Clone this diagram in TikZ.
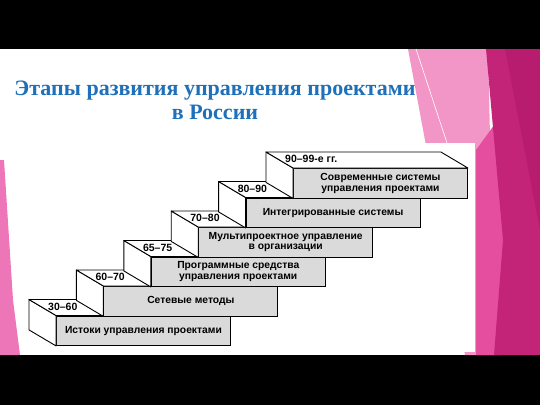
\documentclass[tikz,border=0pt]{standalone}
\usepackage{fontspec}
\setmainfont{Liberation Serif}
\setsansfont{Liberation Sans}
\usetikzlibrary{positioning, calc}

\definecolor{titleblue}{RGB}{30,112,186}
\definecolor{stepgrey}{RGB}{218,218,218}
\definecolor{lightpink}{RGB}{242,150,199}
\definecolor{midpink}{RGB}{229,78,158}
\definecolor{slidemagenta}{RGB}{196,36,120}
\definecolor{deepmagenta}{RGB}{184,28,110}
\definecolor{leftpink}{RGB}{236,118,184}

\begin{document}
\begin{tikzpicture}[x=1pt, y=-1pt,
  front/.style={draw, line width=0.9pt, fill=stepgrey, anchor=north west,
    minimum width=174pt, minimum height=29.5pt, inner sep=0pt, align=center,
    font=\sffamily\bfseries\fontsize{10.3}{10.6}\selectfont},
  side/.style={draw, line width=0.9pt, fill=white, line join=round},
  years/.style={anchor=west, inner sep=0pt,
    font=\sffamily\bfseries\fontsize{10.5}{11}\selectfont}]
  \useasboundingbox (0,0) rectangle (540,405);
  % slide with its black bars
  \fill[black] (0,0) rectangle (540,405);
  \fill[white] (0,49) rectangle (540,355);
  % pink decoration
  \fill[leftpink] (0,160) -- (4,160) -- (13,300) -- (20,355) -- (0,355) -- cycle;
  \fill[lightpink] (408,49) -- (488,49) -- (495,355) -- (465,355) -- cycle;
  \fill[midpink] (476,150) -- (505,110) -- (502,355) -- (476,355) -- cycle;
  \fill[slidemagenta] (486,49) -- (540,49) -- (540,355) -- (494,355) -- (503,240) -- cycle;
  \fill[deepmagenta] (505,49) -- (540,49) -- (540,230) -- cycle;
  \draw[white, line width=0.6pt] (416,49) -- (447,143);
  % scanned picture
  \fill[white] (24,143) rectangle (475,352);

  \node[text=titleblue, align=center, font=\rmfamily\bfseries\fontsize{22}{24}\selectfont]
    (title) at (215,100) {Этапы развития управления проектами\\в России};

  % stairs
  \foreach \i/\yr/\txt in {0/30–60/{Истоки управления проектами},
      1/60–70/{Сетевые методы},
      2/65–75/{Программные средства\\управления проектами},
      3/70–80/{Мультипроектное управление\\в организации},
      4/80–90/{Интегрированные системы},
      5/90–99-е гг./{Современные системы\\управления проектами}} {
    \pgfmathsetmacro\sx{56+47.4*\i}
    \pgfmathsetmacro\sy{315.5-29.5*\i}
    \node[front] (s\i) at (\sx,\sy) {\txt};
    \filldraw[side] (s\i.north west) -- (s\i.south west) -- ++(-27,-16)
      -- ($(s\i.north west)+(-27,-16)$) -- cycle;
    \filldraw[side] (s\i.north west) -- (s\i.north east) -- ++(-27,-16)
      -- ($(s\i.north west)+(-27,-16)$) -- cycle;
    \node[years] (y\i) at ($(s\i.north west)+(-8,-9)$) {\yr};
  }
\end{tikzpicture}
\end{document}
